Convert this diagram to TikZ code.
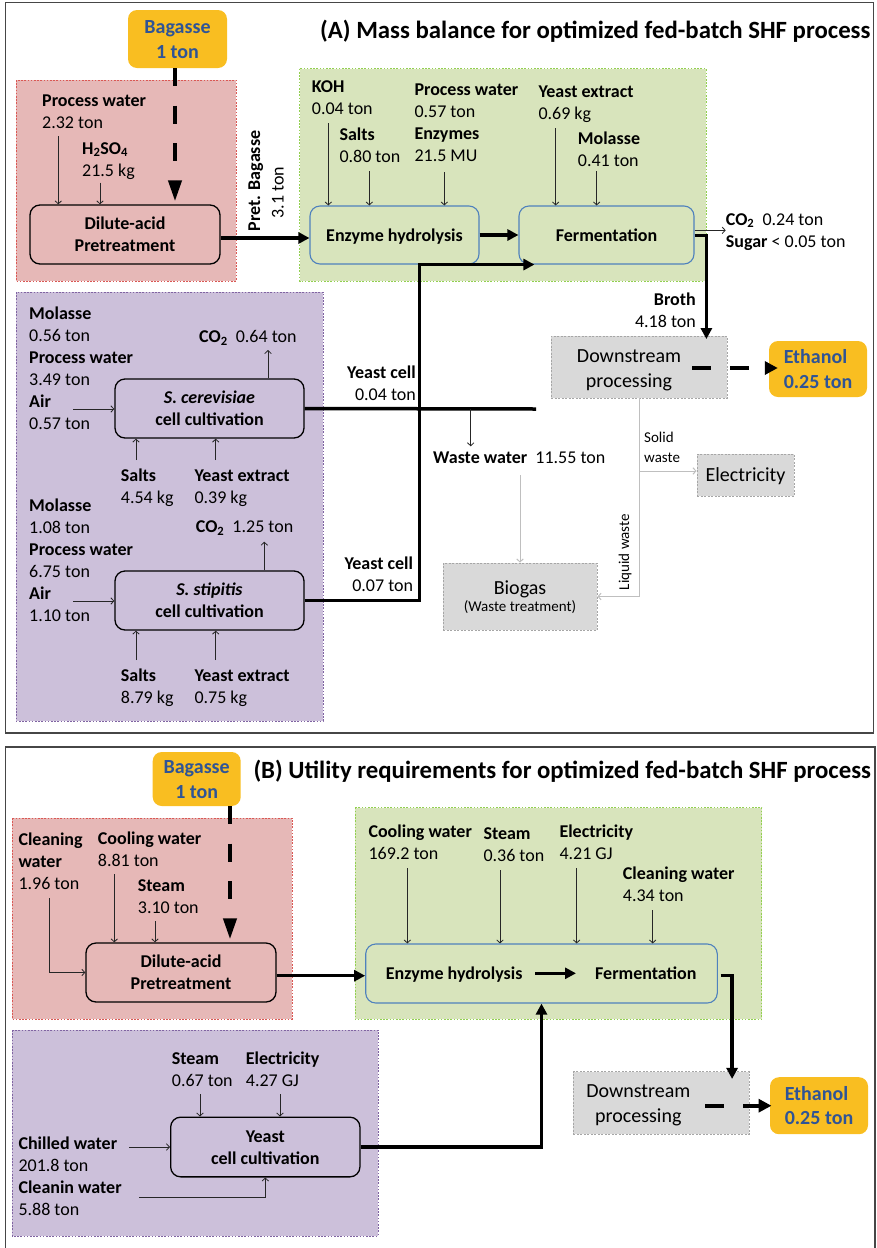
\documentclass[tikz,border=0pt]{standalone}
\usepackage{fontspec}
\setmainfont{Carlito}
\usetikzlibrary{arrows.meta}

% colours
\definecolor{regred}{RGB}{230,184,183}
\definecolor{edgered}{RGB}{218,88,84}
\definecolor{reggreen}{RGB}{216,228,188}
\definecolor{edgegreen}{RGB}{146,208,80}
\definecolor{regpurple}{RGB}{204,192,218}
\definecolor{edgepurple}{RGB}{128,100,162}
\definecolor{boxblue}{RGB}{79,129,189}
\definecolor{greyfill}{RGB}{217,217,217}
\definecolor{greyedge}{RGB}{166,166,166}
\definecolor{gold}{RGB}{249,190,33}
\definecolor{goldtext}{RGB}{47,84,150}
\definecolor{wasteline}{RGB}{191,191,191}
\definecolor{panelframe}{RGB}{70,70,70}

% font sizes and struts (height above baseline / depth below)
\newcommand\fl{\fontsize{18}{22}\selectfont}
\newcommand\fg{\fontsize{20}{24.5}\selectfont}
\newcommand\fsm{\fontsize{15}{20}\selectfont}
\newcommand\ftitle{\fontsize{24.8}{30}\selectfont\bfseries}
\newcommand\stA{\rule[-5pt]{0pt}{22pt}}
\newcommand\stB{\rule[-5.5pt]{0pt}{24.5pt}}
\newcommand\stC{\rule[-4pt]{0pt}{18.5pt}}

\tikzset{
  region/.style={line width=0.8pt, dash pattern=on 1.6pt off 1.6pt},
  redreg/.style={region, fill=regred, draw=edgered},
  greenreg/.style={region, fill=reggreen, draw=edgegreen},
  purplereg/.style={region, fill=regpurple, draw=edgepurple},
  proc/.style={draw=black, line width=1.3pt, rounded corners=10pt, inner sep=0pt,
    align=center, font=\fl\bfseries},
  procg/.style={proc, draw=boxblue, line width=1.1pt},
  goldbox/.style={fill=gold, rounded corners=9pt, inner sep=0pt, font=\fg\bfseries,
    text=goldtext},
  greybox/.style={fill=greyfill, draw=greyedge, line width=0.8pt,
    dash pattern=on 2pt off 1.5pt, inner sep=0pt},
  lbl/.style={anchor=north west, inner sep=0pt, align=left, font=\fl},
  lblr/.style={lbl, anchor=north east, align=right},
  thinarr/.style={draw=black!85, line width=0.8pt,
    -{Straight Barb[length=3pt,width=6.5pt]}},
  greyarr/.style={draw=wasteline, line width=1pt,
    -{Straight Barb[length=3pt,width=6.5pt]}},
  thickarr/.style={line width=3.5pt, -{Triangle[length=11pt,width=11pt]}},
  thickline/.style={line width=3.5pt},
  bagdash/.style={line width=4pt, dash pattern=on 18pt off 19.5pt, shorten >=3pt,
    -{Triangle[length=21pt,width=13pt]}},
  outdash/.style={line width=4pt, dash pattern=on 19pt off 19pt,
    -{Triangle[length=13pt,width=13pt]}},
}

\begin{document}
\begin{tikzpicture}[x=1pt, y=-1pt]
\useasboundingbox (0,0) rectangle (876,1248);

% ---------------- panel frames ----------------
\draw[panelframe, line width=1.3pt] (5.5,2.5) rectangle (873.5,733);
\draw[panelframe, line width=1.3pt] (5.5,1252) -- (5.5,747) -- (875,747) -- (875,1252);

% =============== (A) mass balance ===============
\node[anchor=base west, inner sep=0pt, font=\ftitle] (titA) at (320,38.3)
  {(A) Mass balance for optimized fed-batch SHF process};

% coloured areas
\draw[redreg] (16,80) rectangle (236,281);
\draw[greenreg] (299.5,68.7) rectangle (706,281);
\draw[purplereg] (16,292) rectangle (323,721);

% process boxes
\node[goldbox, align=center, minimum width=99pt, minimum height=58pt] (bagA) at (177.5,39)
  {\stB Bagasse\\1 ton\stB};
\node[proc, minimum width=190pt, minimum height=59pt] (preA) at (125,234.5)
  {\stA Dilute-acid\\Pretreatment\stA};
\node[procg, minimum width=169pt, minimum height=58pt] (ehA) at (394.5,235)
  {\stA Enzyme hydrolysis\stA};
\node[procg, minimum width=175pt, minimum height=58pt] (feA) at (606.5,235)
  {\stA Fermentation\stA};
\node[proc, minimum width=189pt, minimum height=59pt] (scA) at (209.5,408.5)
  {\stA\textit{S. cerevisiae}\\cell cultivation\stA};
\node[proc, minimum width=189pt, minimum height=59pt] (ssA) at (209.5,600.5)
  {\stA\textit{S. stipitis}\\cell cultivation\stA};
\node[greybox, minimum width=176pt, minimum height=62pt] (dsA) at (639,367) {};
\node[anchor=north, inner sep=0pt, align=center, font=\fg]
  (dstA) at (629,343.7) {\stB Downstream\\processing};
\node[goldbox, align=left, minimum width=98pt, minimum height=56pt] (ethA) at (818,369)
  {\stB Ethanol\\0.25 ton\stB};
\node[greybox, minimum width=97pt, minimum height=42pt, font=\fg] (elA) at (745.5,475)
  {\stB Electricity\stB};
\node[greybox, minimum width=154pt, minimum height=67pt] (bioA) at (520,596.5) {};
\node[anchor=base, inner sep=0pt, font=\fg] (bioT) at (520,594) {Biogas};
\node[anchor=base, inner sep=0pt, font=\fsm] (wtT) at (520,611.7) {(Waste treatment)};

% stream labels
\node[lbl] (pwA) at (42,89) {\stA\textbf{Process water}\\2.32 ton};
\node[lbl] (h2A) at (82,137) {\stA\textbf{H\textsubscript{2}SO\textsubscript{4}}\\21.5 kg};
\node[lbl] (kohA) at (311.7,75.7) {\stA\textbf{KOH}\\0.04 ton};
\node[lbl] (saltA) at (339.3,123.3) {\stA\textbf{Salts}\\0.80 ton};
\node[lbl] (pw2A) at (414.3,78.3)
  {\stA\textbf{Process water}\\0.57 ton\\\textbf{Enzymes}\\21.5 MU};
\node[lbl] (yeA) at (538.3,80) {\stA\textbf{Yeast extract}\\0.69 kg};
\node[lbl] (molA) at (577.7,127.7) {\stA\textbf{Molasse}\\0.41 ton};
\node[lbl] (co2A) at (725.7,208)
  {\stA\textbf{CO\textsubscript{2}}\ \ 0.24 ton\\\textbf{Sugar} < 0.05 ton};
\node[lblr] (brothA) at (696,288) {\stA\textbf{Broth}\\4.18 ton};
\node[lblr] (yc1A) at (416,361.3) {\stA\textbf{Yeast cell}\\0.04 ton};
\node[lblr] (yc2A) at (413.3,552.3) {\stA\textbf{Yeast cell}\\0.07 ton};
\node[lbl] (wwA) at (433,446.3) {\stA\textbf{Waste water}\ \ 11.55 ton};
\node[lbl, font=\fsm] (solidA) at (644,428.2) {\stC Solid\\waste};
\node[rotate=90, anchor=base, inner sep=0pt, font=\fsm] (liqA) at (629,552) {Liquid waste};
\node[rotate=90, anchor=base, inner sep=0pt, font=\fl\bfseries] (pbA) at (260,181)
  {Pret. Bagasse};
\node[rotate=90, anchor=base, inner sep=0pt, font=\fl] (pbtA) at (283.5,192.5) {3.1 ton};
\node[lbl] (mol1A) at (29,302.3)
  {\stA\textbf{Molasse}\\0.56 ton\\\textbf{Process water}\\3.49 ton\\\textbf{Air}\\0.57 ton};
\node[lbl] (co21A) at (199,325.7) {\stA\textbf{CO\textsubscript{2}}\ \ 0.64 ton};
\node[lbl] (salt1A) at (120.7,464) {\stA\textbf{Salts}\\4.54 kg};
\node[lbl] (ye1A) at (194.3,464) {\stA\textbf{Yeast extract}\\0.39 kg};
\node[lbl] (mol2A) at (29,494)
  {\stA\textbf{Molasse}\\1.08 ton\\\textbf{Process water}\\6.75 ton\\\textbf{Air}\\1.10 ton};
\node[lbl] (co22A) at (195.7,515.7) {\stA\textbf{CO\textsubscript{2}}\ \ 1.25 ton};
\node[lbl] (salt2A) at (120.7,664) {\stA\textbf{Salts}\\8.79 kg};
\node[lbl] (ye2A) at (194.3,664) {\stA\textbf{Yeast extract}\\0.75 kg};

% feed arrows
\draw[thinarr] (58.3,136) -- (58.3,0 |- preA.north);
\draw[thinarr] (100,182.7) -- (100,0 |- preA.north);
\draw[thinarr] (328.3,123) -- (328.3,0 |- ehA.north);
\draw[thinarr] (369.3,171.3) -- (369.3,0 |- ehA.north);
\draw[thinarr] (444.3,172) -- (444.3,0 |- ehA.north);
\draw[thinarr] (555.7,128) -- (555.7,0 |- feA.north);
\draw[thinarr] (596.7,171.3) -- (596.7,0 |- feA.north);
\draw[thinarr] (73,409) -- (73,409 -| scA.west);
\draw[thinarr] (73,601) -- (73,601 -| ssA.west);
\draw[thinarr] (268,0 |- scA.north) -- (268,350);
\draw[thinarr] (264.3,0 |- ssA.north) -- (264.3,541.7);
\draw[thinarr] (136,460) -- (136,0 |- scA.south);
\draw[thinarr] (215.7,460) -- (215.7,0 |- scA.south);
\draw[thinarr] (136,660) -- (136,0 |- ssA.south);
\draw[thinarr] (215.7,660) -- (215.7,0 |- ssA.south);

% main streams
\draw[bagdash] (175,0 |- bagA.south) -- (175,0 |- preA.north);
\draw[thickarr] ([yshift=-3.5pt]preA.east) -- ([yshift=-3.5pt]preA.east -| ehA.west);
\draw[thickarr] (ehA.east) -- (feA.west);
\draw[thinarr] ([yshift=4.7pt]feA.east) -- ([yshift=4.7pt]feA.east -| co2A.west);
\draw[thickarr, shorten >=-3.5pt] ([yshift=-0.3pt]feA.east) -| ([xshift=-21pt]dsA.north east);
\draw[outdash, shorten >=-9pt] ([xshift=-35pt,yshift=-1pt]dsA.east) -- ([yshift=-1pt]dsA.east -| ethA.west);
\coordinate (cellend) at (536,409);
\coordinate (wwsplit) at (470.7,409);
\draw[thickline] (scA.east) -- (cellend);
\draw[thickarr] (ssA.east) -| ([xshift=-99pt]feA.south west) -- ([xshift=16pt]feA.south west);
\draw[thinarr] (wwsplit) -- (470.7,0 |- wwA.north);

% waste streams
\draw[greyarr] (520,475) -- (bioA.north);
\draw[greyarr] (dsA.south) |- (bioA.east);
\draw[greyarr] (dsA.south |- 0,471) -- (elA.west |- 0,471);

% =============== (B) utilities ===============
\node[anchor=base west, inner sep=0pt, font=\ftitle] (titB) at (253.3,778.3)
  {(B) Utility requirements for optimized fed-batch SHF process};

\draw[redreg] (12,818) rectangle (292,1019);
\draw[greenreg] (355,807.5) rectangle (761.7,1019.3);
\draw[purplereg] (12,1030) rectangle (378,1236);

\node[goldbox, align=center, minimum width=88pt, minimum height=54pt] (bagB) at (196.7,779)
  {\stB Bagasse\\1 ton\stB};
\node[proc, minimum width=190pt, minimum height=59pt] (preB) at (181,972.5)
  {\stA Dilute-acid\\Pretreatment\stA};
\node[procg, minimum width=351.6pt, minimum height=59pt] (bigB) at (541.5,973.5) {};
\node[anchor=base west, inner sep=0pt, font=\fl\bfseries] (ehB) at (385.7,979.3)
  {Enzyme hydrolysis};
\node[anchor=base west, inner sep=0pt, font=\fl\bfseries] (feB) at (595,979.3)
  {Fermentation};
\node[proc, minimum width=189.3pt, minimum height=59.7pt] (yB) at (265.3,1147)
  {\stA Yeast\\cell cultivation\stA};
\node[greybox, minimum width=176pt, minimum height=62.3pt] (dsB) at (661.3,1102.9) {};
\node[anchor=north, inner sep=0pt, align=center, font=\fg]
  (dstB) at (638.3,1078.7) {\stB Downstream\\processing};
\node[goldbox, align=left, minimum width=98pt, minimum height=57pt] (ethB) at (819,1105.7)
  {\stB Ethanol\\0.25 ton\stB};

\node[lbl] (clB) at (18.3,828) {\stA\textbf{Cleaning}\\\textbf{water}\\1.96 ton};
\node[lbl] (cwB) at (97.7,827.3) {\stA\textbf{Cooling water}\\8.81 ton};
\node[lbl] (stB) at (137.7,874) {\stA\textbf{Steam}\\3.10 ton};
\node[lbl] (cw2B) at (368.3,820.3) {\stA\textbf{Cooling water}\\169.2 ton};
\node[lbl] (st2B) at (483.3,822.3) {\stA\textbf{Steam}\\0.36 ton};
\node[lbl] (elB) at (559.3,820.3) {\stA\textbf{Electricity}\\4.21 GJ};
\node[lbl] (cl2B) at (622.7,862.3) {\stA\textbf{Cleaning water}\\4.34 ton};
\node[lbl] (st3B) at (171.7,1047) {\stA\textbf{Steam}\\0.67 ton};
\node[lbl] (el2B) at (245.7,1047) {\stA\textbf{Electricity}\\4.27 GJ};
\node[lbl] (chB) at (18.3,1132)
  {\stA\textbf{Chilled water}\\201.8 ton\\\textbf{Cleanin water}\\5.88 ton};

% utility arrows
\draw[thinarr] (49.3,898) |- (preB.west);
\draw[thinarr] (114.3,874) -- (114.3,0 |- preB.north);
\draw[thinarr] (155,921) -- (155,0 |- preB.north);
\draw[thinarr] (407.3,868.3) -- (407.3,0 |- bigB.north);
\draw[thinarr] (500,870) -- (500,0 |- bigB.north);
\draw[thinarr] (576.7,868.3) -- (576.7,0 |- bigB.north);
\draw[thinarr] (652.7,910) -- (652.7,0 |- bigB.north);
\draw[thinarr] (200,1094) -- (200,0 |- yB.north);
\draw[thinarr] (280,1094) -- (280,0 |- yB.north);
\draw[thinarr] (129.3,1147) -- (yB.west);
\draw[thinarr] (139.3,1197.7) -| (yB.south);

% main streams
\draw[bagdash] (230,0 |- bagB.south) -- (230,0 |- preB.north);
\draw[thickarr] ([yshift=-3.2pt]preB.east) -- ([yshift=-3.2pt]preB.east -| bigB.west);
\draw[thickarr] ([xshift=12.7pt,yshift=6pt]ehB.base east) -- ([xshift=-19pt,yshift=6pt]feB.base west);
\draw[thickarr, shorten >=-7.6pt] ([xshift=2.7pt,yshift=-2.2pt]bigB.east) -| ([xshift=-17.6pt]dsB.north east);
\draw[outdash, shorten >=-1.7pt] ([xshift=-44.3pt,yshift=-2.8pt]dsB.east) -- ([yshift=-2.8pt]dsB.east -| ethB.west);
\draw[thickarr] (yB.east) -| (bigB.south);

\end{tikzpicture}
\end{document}
